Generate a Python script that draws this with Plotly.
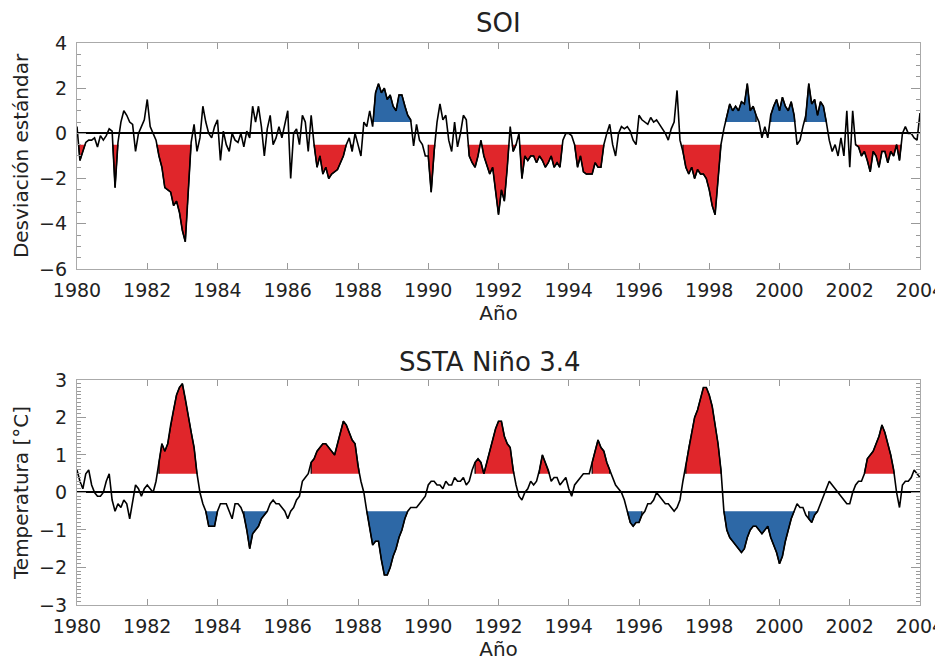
import plotly.graph_objects as go

# ---------------- data (monthly, Jan 1980 .. Jan 2004) ----------------
start_year = 1980
soi_values = [
    0.3, -1.2, -0.8, -0.4, -0.3, -0.3, -0.2, -0.6, -0.1, -0.3, -0.1, 0.2,   # 1980
    0.1, -2.4, -0.4, 0.5, 1.0, 0.8, 0.5, 0.4, -0.8, 0.0, 0.3, 0.6,       # 1981
    1.5, 0.3, 0.0, -0.3, -1.0, -1.5, -2.4, -2.5, -2.6, -3.2, -3.0, -3.5,  # 1982
    -4.3, -4.8, -2.8, -0.4, 0.4, -0.8, -0.2, 1.2, 0.5, 0.0, -0.2, 0.3,    # 1983
    0.6, -1.2, 0.1, -0.5, -0.8, 0.0, -0.3, -0.4, 0.0, -0.6, 0.1, -0.2,    # 1984
    1.2, 0.5, 1.2, 0.3, -1.0, 0.2, 0.8, -0.5, -0.2, 0.3, -0.2, 0.4,       # 1985
    1.0, -2.0, 0.0, 0.2, -0.5, 0.8, 0.5, -0.8, 0.8, -0.5, -1.5, -1.0,     # 1986
    -1.8, -1.5, -2.0, -1.8, -1.7, -1.6, -1.3, -1.0, -0.5, -0.2, -0.8, 0.0,  # 1987
    -0.5, -1.0, 0.5, 0.3, 1.0, 0.3, 1.8, 2.2, 1.8, 2.0, 1.5, 1.7,         # 1988
    1.2, 1.0, 1.7, 1.7, 1.2, 0.8, 0.6, -0.55, 0.4, -0.3, -0.5, -1.0,      # 1989
    -1.0, -2.6, -0.8, 0.5, 1.3, 0.6, 0.8, -0.3, -0.8, 0.5, -0.6, 0.0,     # 1990
    0.8, 0.6, -1.0, -1.3, -1.5, -1.0, -0.3, -1.0, -1.4, -1.8, -1.5, -2.5,  # 1991
    -3.6, -2.5, -3.0, -1.5, 0.3, -0.8, -0.5, 0.0, -2.0, -1.0, -1.2, -1.0,  # 1992
    -1.0, -1.3, -1.0, -1.2, -1.5, -1.3, -1.0, -1.5, -1.3, -1.5, -0.3, 0.0,  # 1993
    0.0, -0.1, -0.5, -1.5, -1.0, -1.7, -1.8, -1.8, -1.8, -1.3, -1.5, -1.5,  # 1994
    -0.5, 0.0, 0.4, -0.5, -1.0, 0.0, 0.3, 0.2, 0.3, 0.1, -0.3, -0.5,     # 1995
    0.8, 0.6, 0.5, 0.4, 0.7, 0.5, 0.6, 0.4, 0.2, 0.0, -0.3, 0.2,         # 1996
    0.5, 1.9, -0.3, -0.8, -1.5, -1.8, -1.5, -2.0, -1.6, -1.8, -1.8, -2.0,  # 1997
    -2.5, -3.2, -3.6, -2.0, -0.5, 0.2, 0.8, 1.3, 1.0, 1.2, 1.0, 1.4,      # 1998
    1.3, 2.2, 1.0, 1.2, 0.8, 0.5, -0.2, 0.3, -0.2, 0.8, 1.2, 1.5,         # 1999
    1.0, 1.6, 1.2, 1.0, 1.4, 0.8, -0.5, -0.3, 0.3, 0.8, 2.2, 1.3,         # 2000
    1.5, 0.8, 1.4, 1.2, 0.5, -0.3, -0.8, -0.5, -1.0, -0.2, -1.0, 1.0,     # 2001
    -1.5, 1.0, -0.5, -0.6, -1.0, -0.8, -1.2, -1.7, -0.8, -1.0, -1.5, -0.8,  # 2002
    -0.8, -1.3, -0.8, -1.0, -0.5, -1.2, 0.0, 0.3, 0.0, 0.0, -0.2, -0.3,   # 2003
    0.9,                                                                   # 2004
]
ssta_values = [
    0.6, 0.3, 0.1, 0.5, 0.6, 0.2, 0.0, -0.1, -0.1, 0.0, 0.3, 0.5,        # 1980
    -0.2, -0.5, -0.3, -0.4, -0.2, -0.3, -0.7, -0.3, 0.2, 0.1, -0.1, 0.1,  # 1981
    0.2, 0.1, 0.0, 0.3, 0.8, 1.3, 1.1, 1.3, 1.8, 2.2, 2.6, 2.8,          # 1982
    2.9, 2.5, 2.0, 1.6, 1.2, 0.5, 0.0, -0.3, -0.5, -0.9, -0.9, -0.9,     # 1983
    -0.5, -0.3, -0.3, -0.3, -0.5, -0.7, -0.3, -0.3, -0.4, -0.6, -1.0, -1.5,  # 1984
    -1.1, -1.0, -0.9, -0.7, -0.6, -0.5, -0.3, -0.2, -0.3, -0.3, -0.4, -0.5,  # 1985
    -0.7, -0.5, -0.4, -0.2, -0.1, 0.3, 0.4, 0.5, 0.8, 0.9, 1.1, 1.2,     # 1986
    1.3, 1.3, 1.2, 1.1, 1.0, 1.3, 1.6, 1.9, 1.8, 1.6, 1.4, 1.3,          # 1987
    0.7, 0.3, 0.0, -0.5, -1.0, -1.4, -1.3, -1.3, -1.8, -2.2, -2.2, -2.0,  # 1988
    -1.7, -1.5, -1.2, -1.0, -0.7, -0.5, -0.4, -0.4, -0.4, -0.3, -0.2, -0.1,  # 1989
    0.2, 0.3, 0.3, 0.2, 0.2, 0.1, 0.3, 0.2, 0.2, 0.4, 0.3, 0.3,          # 1990
    0.4, 0.2, 0.3, 0.6, 0.8, 0.9, 0.8, 0.5, 0.8, 1.1, 1.4, 1.7,          # 1991
    1.9, 1.9, 1.5, 1.3, 1.2, 0.6, 0.2, -0.1, -0.2, 0.0, 0.1, 0.3,        # 1992
    0.2, 0.3, 0.6, 1.0, 0.8, 0.6, 0.3, 0.4, 0.4, 0.2, 0.3, 0.4,          # 1993
    0.1, -0.1, 0.2, 0.3, 0.4, 0.5, 0.5, 0.5, 0.8, 1.1, 1.4, 1.2,         # 1994
    1.1, 0.8, 0.6, 0.4, 0.2, 0.1, 0.0, -0.2, -0.5, -0.8, -0.9, -0.8,     # 1995
    -0.8, -0.6, -0.5, -0.3, -0.3, -0.2, 0.0, -0.1, -0.2, -0.3, -0.3, -0.4,  # 1996
    -0.5, -0.4, -0.2, 0.3, 0.7, 1.2, 1.6, 2.0, 2.2, 2.5, 2.8, 2.8,       # 1997
    2.6, 2.3, 1.8, 1.3, 0.6, -0.5, -1.0, -1.2, -1.3, -1.4, -1.5, -1.6,   # 1998
    -1.5, -1.2, -1.0, -0.9, -0.9, -1.0, -1.1, -1.0, -0.9, -1.2, -1.4, -1.6,  # 1999
    -1.9, -1.7, -1.3, -1.0, -0.7, -0.5, -0.3, -0.4, -0.4, -0.6, -0.7, -0.8,  # 2000
    -0.6, -0.5, -0.3, -0.1, 0.1, 0.3, 0.2, 0.1, 0.0, -0.1, -0.2, -0.3,   # 2001
    -0.3, 0.0, 0.2, 0.3, 0.3, 0.5, 0.9, 1.0, 1.1, 1.3, 1.5, 1.8,         # 2002
    1.6, 1.3, 1.0, 0.6, 0.0, -0.4, 0.2, 0.3, 0.3, 0.4, 0.6, 0.5,         # 2003
    0.4,                                                                  # 2004
]

# shaded episodes (start, end in decimal years)
soi_neg_events = [(1980.0, 1980.4), (1981.0, 1981.3), (1982.2, 1983.35), (1986.7, 1987.85),
                  (1990.0, 1990.3), (1991.0, 1995.1), (1997.2, 1998.45), (2002.1, 2003.55)]
soi_pos_events = [(1988.35, 1989.55), (1998.35, 1999.4), (1999.7, 2000.5), (2000.7, 2001.35)]
ssta_pos_events = [(1982.3, 1983.5), (1986.6, 1988.1), (1991.3, 1992.5), (1993.1, 1993.5),
                   (1994.6, 1995.2), (1997.3, 1998.45), (2002.4, 2003.35)]
ssta_neg_events = [(1983.6, 1984.1), (1984.7, 1985.45), (1988.2, 1989.5), (1995.6, 1996.15),
                   (1998.4, 2000.55), (2000.8, 2001.2)]
threshold = 0.5

red = "#e0262b"
blue = "#2d68a6"

t = [start_year + m / 12 for m in range(len(soi_values))]


def fill_polys(tt, yy, thr, sign, windows):
    xs, ys = [], []

    def flush(p):
        for a, b in p:
            xs.append(a)
            ys.append(b)
        xs.append(None)
        ys.append(None)

    for (a, b) in windows:
        idx = [i for i in range(len(tt)) if a <= tt[i] <= b]
        pts = []
        prev = None
        for i in idx:
            v = sign * (yy[i] - thr) > 0
            if prev is not None:
                pv = sign * (yy[prev] - thr) > 0
                if pv != v:
                    tc = tt[prev] + (tt[i] - tt[prev]) * (thr - yy[prev]) / (yy[i] - yy[prev])
                    if v:
                        pts = [(tc, thr)]
                    else:
                        pts.append((tc, thr))
                        flush(pts)
                        pts = []
            if v:
                if not pts:
                    pts = [(tt[i], thr)]
                pts.append((tt[i], yy[i]))
            prev = i
        if pts:
            pts.append((pts[-1][0], thr))
            flush(pts)
    return xs, ys


fig = go.Figure()


def add_panel(values, pos_ev, neg_ev, pos_col, neg_col, xa, ya):
    xs, ys = fill_polys(t, values, threshold, 1, pos_ev)
    fig.add_trace(go.Scatter(x=xs, y=ys, fill="toself", fillcolor=pos_col, mode="lines",
                             line=dict(color="black", width=1.2), xaxis=xa, yaxis=ya, hoverinfo="skip"))
    xs, ys = fill_polys(t, values, -threshold, -1, neg_ev)
    fig.add_trace(go.Scatter(x=xs, y=ys, fill="toself", fillcolor=neg_col, mode="lines",
                             line=dict(color="black", width=1.2), xaxis=xa, yaxis=ya, hoverinfo="skip"))
    fig.add_trace(go.Scatter(x=t, y=values, mode="lines", line=dict(color="black", width=1.6),
                             xaxis=xa, yaxis=ya))


add_panel(soi_values, soi_pos_events, soi_neg_events, blue, red, "x", "y")
add_panel(ssta_values, ssta_pos_events, ssta_neg_events, red, blue, "x2", "y2")

font_family = "DejaVu Sans"
tick_font = dict(family=font_family, size=19, color="#222")
title_font = dict(family=font_family, size=20, color="#222")

xcommon = dict(range=[1980, 2004], tickmode="linear", tick0=1980, dtick=2,
               ticks="inside", ticklen=6,
               tickcolor="#999", showline=True, linecolor="#aaa", linewidth=1.2,
               mirror="allticks", showgrid=False, zeroline=False, tickfont=tick_font,
               ticklabelstandoff=4, ticklabeloverflow="allow", automargin=False)
ycommon = dict(tickmode="linear", tick0=0, ticks="inside", ticklen=9, tickcolor="#999",
               showline=True, linecolor="#aaa",
               linewidth=1.2, mirror="allticks", showgrid=False, zeroline=True,
               zerolinecolor="black", zerolinewidth=1.6, tickfont=tick_font,
               ticklabelstandoff=5, ticklabeloverflow="allow", automargin=False)

# the page body adds an 8 px offset, so the figure is 8 px smaller than the window
fig.update_layout(
    width=935, height=653,
    margin=dict(l=69, r=23, t=35, b=56),
    plot_bgcolor="white", paper_bgcolor="white",
    showlegend=False,
    font=dict(family=font_family, color="#222"),
    xaxis=dict(domain=[0, 1], anchor="y",
               title=dict(text="Año", font=title_font, standoff=5), **xcommon),
    yaxis=dict(domain=[0.598, 1], anchor="x", range=[-6, 4], dtick=2,
               minor=dict(dtick=0.5, tick0=0, ticks="inside", ticklen=4, tickcolor="#999", showgrid=False),
               title=dict(text="Desviación estándar", font=title_font, standoff=5), **ycommon),
    xaxis2=dict(domain=[0, 1], anchor="y2",
                title=dict(text="Año", font=title_font, standoff=5), **xcommon),
    yaxis2=dict(domain=[0, 0.4004], anchor="x2", range=[-3, 3], dtick=1,
                minor=dict(dtick=0.1, tick0=0, ticks="inside", ticklen=4, tickcolor="#999", showgrid=False),
                title=dict(text="Temperatura [°C]", font=title_font, standoff=5), **ycommon),
    annotations=[
        dict(text="SOI", x=0.5, y=1.0356, xref="paper", yref="paper", showarrow=False,
             xanchor="center", yanchor="middle", font=dict(family=font_family, size=26, color="#222")),
        dict(text="SSTA Niño 3.4", x=0.49, y=0.4324, xref="paper", yref="paper", showarrow=False,
             xanchor="center", yanchor="middle", font=dict(family=font_family, size=26, color="#222")),
    ],
)

fig.write_html("out.html")
